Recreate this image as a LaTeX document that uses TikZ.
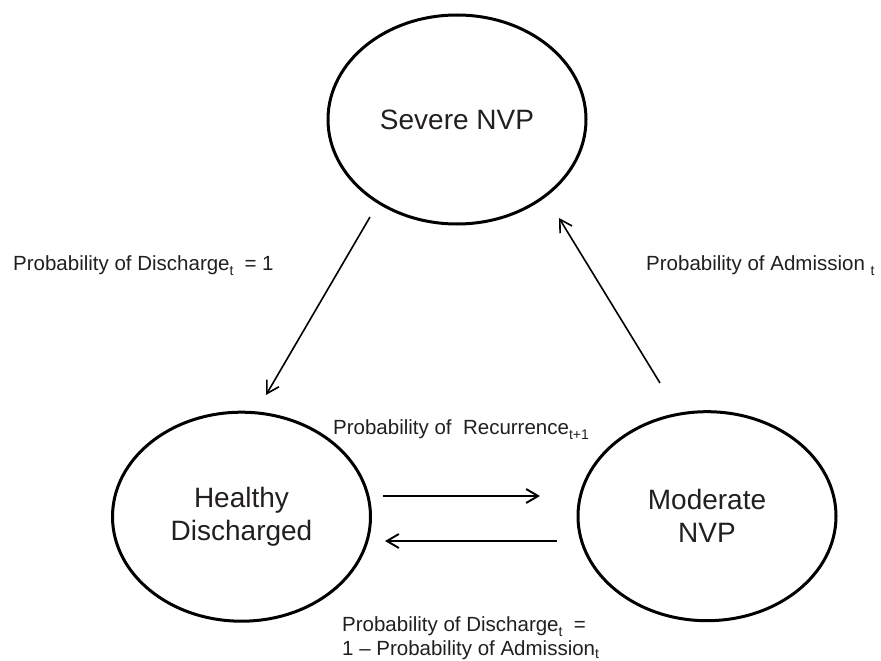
\documentclass[tikz,border=0pt]{standalone}
\usepackage{fontspec}
\setmainfont{Liberation Sans}
\usetikzlibrary{arrows.meta,shapes.geometric}
\definecolor{txt}{RGB}{35,31,32}
\newcommand\lowidx[1]{\raisebox{-5pt}{\fontsize{14}{14}\selectfont #1}}
\newcommand\lowidxb[1]{\raisebox{-3.5pt}{\fontsize{14}{14}\selectfont #1}}
\begin{document}
\begin{tikzpicture}[x=1pt,y=-1pt,
  state/.style={ellipse, draw=black, line width=3pt, minimum width=258pt, minimum height=209pt,
    inner sep=0pt, align=center, font=\fontsize{28}{33}\selectfont, text=txt},
  lbl/.style={anchor=base west, inner sep=0pt, font=\fontsize{20.5}{27}\selectfont, text=txt},
  flow/.style={-{Straight Barb[length=12pt,width=14pt]}, line width=1.6pt},
  hflow/.style={-{Straight Barb[length=12pt,width=14pt]}, line width=1.9pt}]
\useasboundingbox (0,0) rectangle (881,661);
\fill[white] (0,0) rectangle (881,661);

\node[state] (sev) at (457,119.5) {Severe NVP};
\node[state] (hea) at (241.5,516.7) {Healthy\\Discharged};
\node[state] (mod) at (707,516.2) {Moderate\\NVP};

\coordinate (d1s) at (370,217);
\coordinate (d1e) at (266,395);
\coordinate (a1s) at (660,383);
\coordinate (a1e) at (559,218);
\coordinate (r1s) at (383,496);
\coordinate (r1e) at (540,496);
\coordinate (l1s) at (557,541);
\coordinate (l1e) at (385,541);

\draw[flow] (d1s) -- (d1e);
\draw[flow] (a1s) -- (a1e);
\draw[hflow] (r1s) -- (r1e);
\draw[hflow] (l1s) -- (l1e);

\node[lbl] (ldis) at (13,270) {Probability of Discharge\lowidx{t}\hspace{11pt}=\ 1};
\node[lbl] (ladm) at (646,270) {Probability of Admission\ \lowidx{t}};
\node[lbl] (lrec) at (333,434) {Probability of\ \ Recurrence\lowidx{t+1}};
\node[lbl] (lbota) at (342,631) {Probability of Discharge\lowidx{t}\ \ =};
\node[lbl] (lbotb) at (342,655) {1 – Probability of Admission\lowidxb{t}};
\end{tikzpicture}
\end{document}
